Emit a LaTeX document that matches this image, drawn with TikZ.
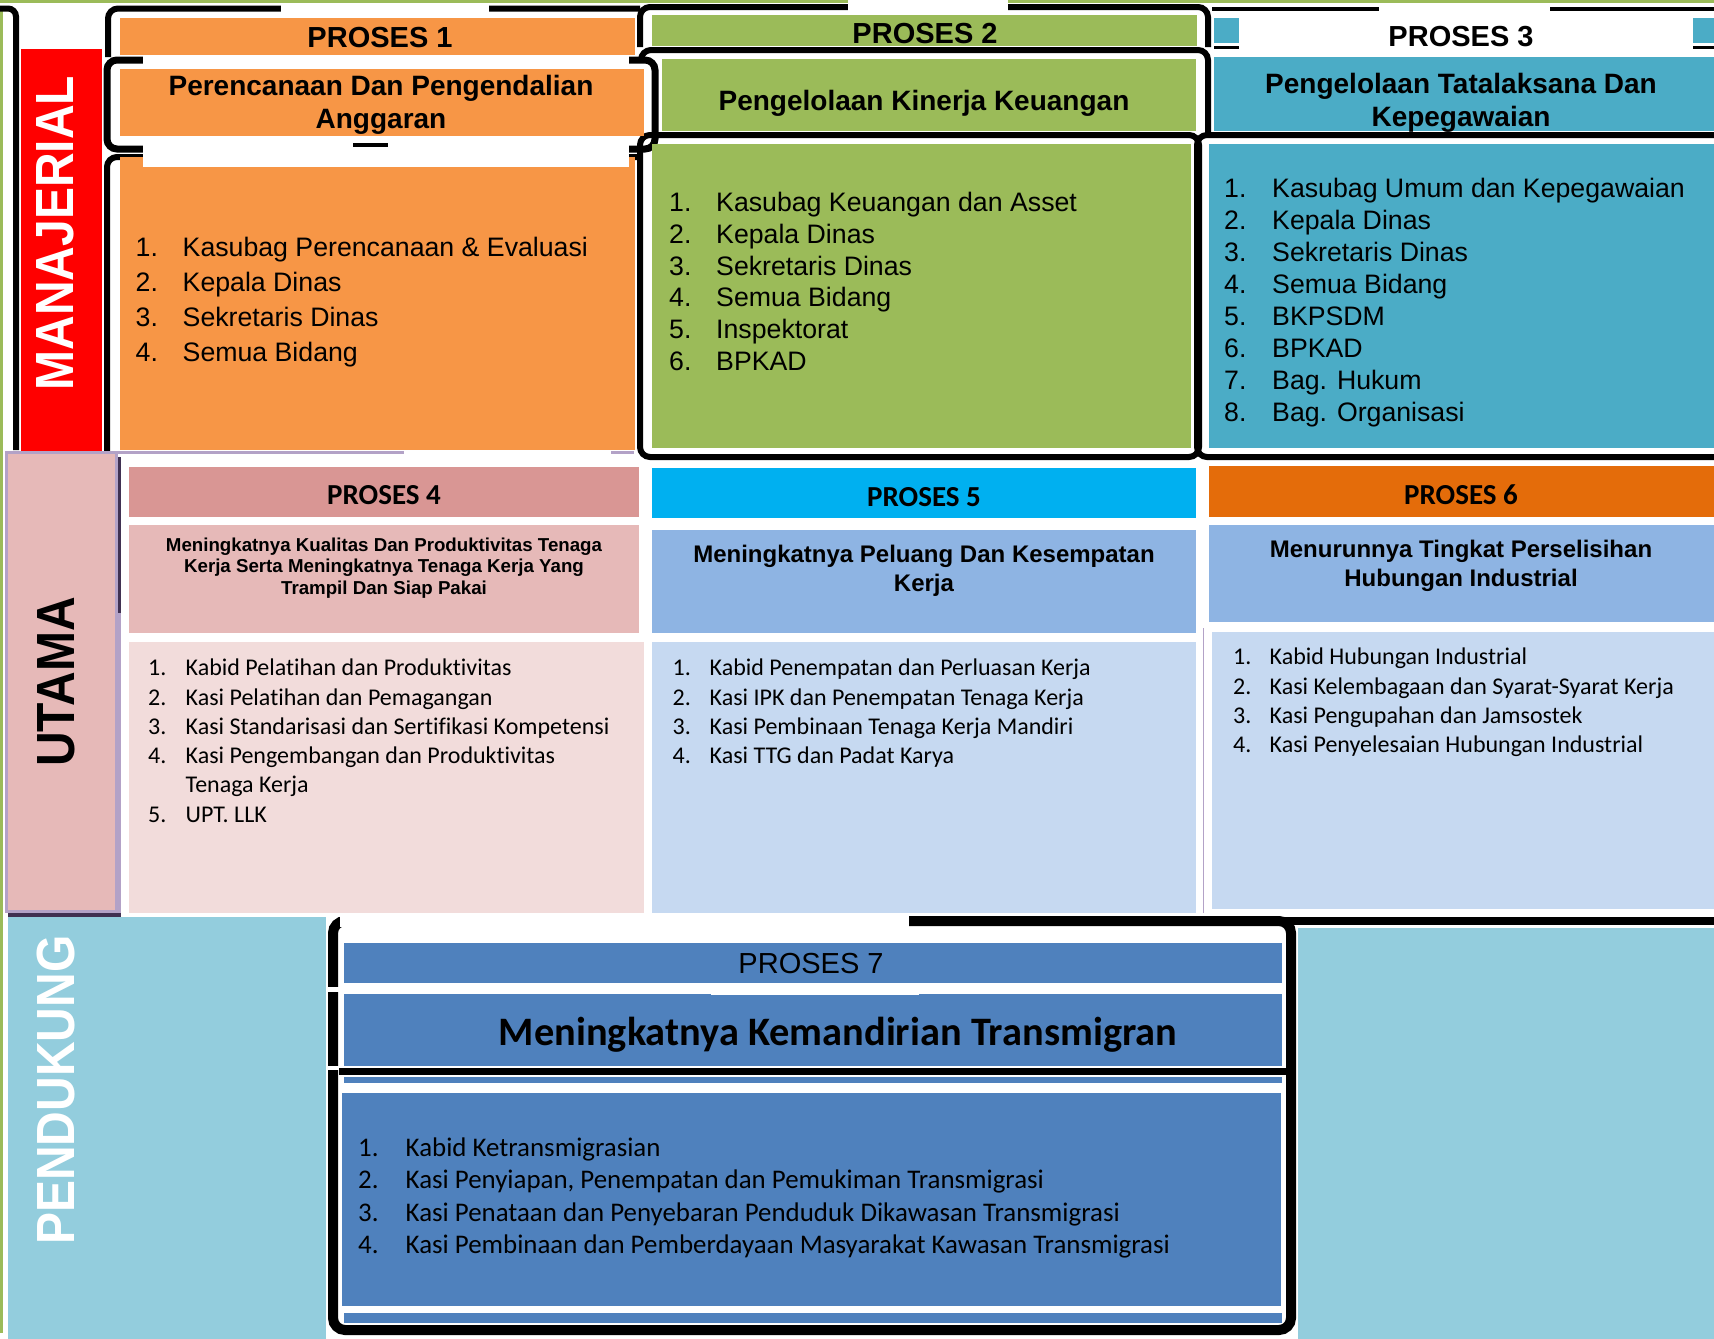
\documentclass[tikz,border=0pt]{standalone}
\usepackage{fontspec}
\setmainfont{Liberation Sans}
\newfontfamily\calib[Ligatures=NoCommon]{Carlito}
\definecolor{pOrange}{HTML}{F79646}
\definecolor{pGreen}{HTML}{9BBB59}
\definecolor{pTeal}{HTML}{4BACC6}
\definecolor{pRed}{HTML}{FF0000}
\definecolor{pPink}{HTML}{E6B9B8}
\definecolor{pRose}{HTML}{D99694}
\definecolor{pPinkL}{HTML}{F2DCDB}
\definecolor{pCyan}{HTML}{00B0F0}
\definecolor{pBlueM}{HTML}{8EB4E3}
\definecolor{pBlueL}{HTML}{C6D9F1}
\definecolor{pDOrange}{HTML}{E46C0A}
\definecolor{pBlue}{HTML}{4F81BD}
\definecolor{pSky}{HTML}{93CDDD}
\definecolor{pLav}{HTML}{B3A2C7}
\definecolor{pPurp}{HTML}{403152}
\tikzset{
  frameline/.style={draw=black, line width=6pt, rounded corners=10pt},
  item/.style={anchor=base west, inner sep=0pt, text=black},
  hdr/.style={inner sep=0pt, text=black, align=center},
  sidelabel/.style={inner sep=0pt, rotate=90, font=\fontsize{48}{57}\selectfont\bfseries},
  fArial/.style={font=\fontsize{26.7}{32}\selectfont},
  fHead/.style={font=\fontsize{29}{34}\selectfont\bfseries},
  fSub/.style={font=\fontsize{28}{33}\selectfont\bfseries},
  fCal/.style={font=\calib\fontsize{24}{29}\selectfont},
  fCalHead/.style={font=\calib\fontsize{29}{34}\selectfont\bfseries},
}
\begin{document}
\begin{tikzpicture}[x=1pt,y=-1pt]
\useasboundingbox (0,0) rectangle (1714,1339);
\fill[white] (0,0) rectangle (1714,1339);
% thin green edges
\fill[pGreen] (0,0) rectangle (1714,3);
\fill[pGreen] (0,10) rectangle (3,1333);
% left black frame edge
\draw[line width=6pt, rounded corners=8pt] (0,8.5) -- (16,8.5) -- (16,450);

% ---------- frames, row 1 ----------
% proses 1
\draw[frameline] (108,57) -- (108,8.5) -- (640,8.5);
\fill[white] (281,4) rectangle (489,13);
\draw[frameline, line width=7pt] (107,60) rectangle (655,149);
\draw[frameline] (107,452) -- (107,157) -- (640,157);
% proses 2
\draw[frameline] (640,47) -- (640,7) -- (1208,7) -- (1208,47);
\fill[white] (848,0) rectangle (1008,12);
\draw[frameline] (641,62) -- (641,50) -- (1208,50) -- (1208,135);
\draw[frameline] (640,135) rectangle (1199,457);
% proses 3
\draw[line width=4pt] (1212,8.5) -- (1379,8.5);
\draw[line width=4pt] (1550,8.5) -- (1714,8.5);
\draw[frameline] (1714,135) -- (1197,135) -- (1197,457) -- (1714,457);

% ---------- fills, row 1 ----------
\fill[pOrange] (120,18) rectangle (635,55);
\fill[pOrange] (120,69) rectangle (644,136);
\fill[pOrange] (120,157) rectangle (635,450);
\fill[white] (143,55) rectangle (629,69);
\fill[white] (143,136) rectangle (629,167);
\fill[black] (353,143) rectangle (388,147);

\fill[pGreen] (652,15) rectangle (1197,46);
\fill[pGreen] (662,59) rectangle (1196,131);
\fill[pGreen] (652,144) rectangle (1191,448);

\fill[pTeal] (1214,18) rectangle (1239,43);
\fill[pTeal] (1693,18) rectangle (1714,43);
\fill[black] (1214,45.5) rectangle (1239,48.5);
\fill[black] (1693,45.5) rectangle (1714,48.5);
\fill[pTeal] (1214,57) rectangle (1714,131);
\fill[pTeal] (1209,144) rectangle (1714,448);

% red bar
\fill[pRed] (21,49) rectangle (102,452);
% lavender seam
\fill[pLav] (118,451) rectangle (404,454);
\fill[pLav] (611,451) rectangle (634,454);

% ---------- UTAMA ----------
\fill[pLav] (10,457) rectangle (121,917);
\fill[pPurp] (117,457) rectangle (121,613);
\fill[pPurp] (8,913) rectangle (121,917);
\filldraw[fill=pPink, draw=pLav, line width=3pt] (6,452) rectangle (116,911);

% ---------- PENDUKUNG background ----------
\fill[pSky] (8,917) rectangle (326,1339);
\fill[pSky] (1298,928) rectangle (1714,1339);

% ---------- row 2 ----------
\fill[pRose] (129,467) rectangle (639,517);
\fill[pPink] (129,525) rectangle (639,633);
\fill[pPinkL] (129,642) rectangle (644,913);

\fill[pCyan] (652,468) rectangle (1196,518);
\fill[pBlueM] (652,530) rectangle (1196,633);
\fill[pBlueL] (652,642) rectangle (1196,913);

\fill[pDOrange] (1209,466) rectangle (1714,517);
\fill[pBlueM] (1209,525) rectangle (1714,622);
\fill[pBlueL] (1212,632) rectangle (1714,909);
\draw[pLav, line width=1pt] (1203.5,628) -- (1203.5,913);
\fill[black] (1203,917) rectangle (1714,925);
\fill[black] (910,921) rectangle (1203,925);

% ---------- proses 7 ----------
\draw[line width=10pt, rounded corners=12pt] (333,921) rectangle (1291,1330);
\fill[white] (340,914) rectangle (909,927);
\fill[white] (326,987) rectangle (341,992);
\fill[white] (326,1066) rectangle (341,1070);
\fill[pBlue] (344,943) rectangle (1282,983);
\fill[pBlue] (344,994) rectangle (1282,1066);
\fill[white] (711,983) rectangle (919,995);
\fill[black] (339,1068) rectangle (1287,1075);
\fill[pBlue] (344,1077) rectangle (1282,1083);
\fill[pBlue] (342,1093) rectangle (1281,1306);
\fill[pBlue] (344,1313) rectangle (1282,1323);

% ---------- side labels ----------
\node[sidelabel, text=white] (lblMan) at (55,233) {\scalebox{1}[1.12]{MANAJERIAL}};
\node[sidelabel, text=black] (lblUta) at (56,682) {\scalebox{1}[1.12]{UTAMA}};
\node[sidelabel, text=white] (lblPen) at (56,1090) {\scalebox{1}[1.12]{PENDUKUNG}};

% ---------- headers row 1 ----------
\node[hdr, fHead] (h1) at (380,38) {PROSES 1};
\node[hdr, fHead] (h2) at (925,34) {PROSES 2};
\node[hdr, fHead] (h3) at (1461,37) {PROSES 3};
\node[hdr, fSub] (s1) at (381,105) {Perencanaan Dan Pengendalian\\Anggaran};
\node[hdr, fSub] (s2) at (924,103.5) {Pengelolaan Kinerja Keuangan};
\node[hdr, fSub] (s3) at (1461,102.5) {Pengelolaan Tatalaksana Dan\\Kepegawaian};

% ---------- lists row 1 ----------
\foreach \t [count=\i] in {Kasubag Perencanaan \& Evaluasi, Kepala Dinas, Sekretaris Dinas, Semua Bidang}{
  \node[item, fArial] (p1n\i) at (135.5,{256.8+34.8*(\i-1)}) {\i.};
  \node[item, fArial] (p1t\i) at (182.5,{256.8+34.8*(\i-1)}) {\t};
}
\foreach \t [count=\i] in {Kasubag Keuangan dan Asset, Kepala Dinas, Sekretaris Dinas, Semua Bidang, Inspektorat, BPKAD}{
  \node[item, fArial] (p2n\i) at (669,{211.8+31.7*(\i-1)}) {\i.};
  \node[item, fArial] (p2t\i) at (716,{211.8+31.7*(\i-1)}) {\t};
}
\foreach \t [count=\i] in {Kasubag Umum dan Kepegawaian, Kepala Dinas, Sekretaris Dinas, Semua Bidang, BKPSDM, BPKAD, Bag. Hukum, Bag. Organisasi}{
  \node[item, fArial] (p3n\i) at (1224,{197.8+32*(\i-1)}) {\i.};
  \node[item, fArial] (p3t\i) at (1272,{197.8+32*(\i-1)}) {\t};
}

% ---------- headers row 2 ----------
\node[hdr, fCalHead] (h4) at (384,495.5) {PROSES 4};
\node[hdr, fCalHead] (h5) at (924,497.5) {PROSES 5};
\node[hdr, fCalHead] (h6) at (1461,494.5) {PROSES 6};
\node[hdr, font=\fontsize{18.7}{21.7}\selectfont\bfseries] (s4) at (384,568) {Meningkatnya Kualitas Dan Produktivitas Tenaga\\Kerja Serta Meningkatnya Tenaga Kerja Yang\\Trampil Dan Siap Pakai};
\node[hdr, font=\fontsize{24}{29}\selectfont\bfseries] (s5) at (924,571) {Meningkatnya Peluang Dan Kesempatan\\Kerja};
\node[hdr, font=\fontsize{24}{29}\selectfont\bfseries] (s6) at (1461,566) {Menurunnya Tingkat Perselisihan\\Hubungan Industrial};

% ---------- lists row 2 ----------
\foreach \t [count=\i] in {Kabid Pelatihan dan Produktivitas, Kasi Pelatihan dan Pemagangan, Kasi Standarisasi dan Sertifikasi Kompetensi, Kasi Pengembangan dan Produktivitas}{
  \node[item, fCal] (p4n\i) at (148,{675.7+29.3*(\i-1)}) {\i.};
  \node[item, fCal] (p4t\i) at (185.5,{675.7+29.3*(\i-1)}) {\t};
}
\node[item, fCal] (p4t4b) at (185.5,{675.7+29.3*4}) {Tenaga Kerja};
\node[item, fCal] (p4n5) at (148,{675.7+29.3*5}) {5.};
\node[item, fCal] (p4t5) at (185.5,{675.7+29.3*5}) {UPT. LLK};
\foreach \t [count=\i] in {Kabid Penempatan dan Perluasan Kerja, Kasi IPK dan Penempatan Tenaga Kerja, Kasi Pembinaan Tenaga Kerja Mandiri, Kasi TTG dan Padat Karya}{
  \node[item, fCal] (p5n\i) at (672.5,{675.7+29.3*(\i-1)}) {\i.};
  \node[item, fCal] (p5t\i) at (709.5,{675.7+29.3*(\i-1)}) {\t};
}
\foreach \t [count=\i] in {Kabid Hubungan Industrial, Kasi Kelembagaan dan Syarat-Syarat Kerja, Kasi Pengupahan dan Jamsostek, Kasi Penyelesaian Hubungan Industrial}{
  \node[item, fCal] (p6n\i) at (1233,{664.7+29.3*(\i-1)}) {\i.};
  \node[item, fCal] (p6t\i) at (1269.5,{664.7+29.3*(\i-1)}) {\t};
}

% ---------- proses 7 text ----------
\node[hdr, font=\fontsize{29}{34}\selectfont] (h7) at (811,964) {PROSES 7};
\node[hdr, font=\calib\fontsize{40.4}{48}\selectfont\bfseries] (s7) at (838,1035) {Meningkatnya Kemandirian Transmigran};
\foreach \t [count=\i] in {Kabid Ketransmigrasian, {Kasi Penyiapan, Penempatan dan Pemukiman Transmigrasi}, Kasi Penataan dan Penyebaran Penduduk Dikawasan Transmigrasi, Kasi Pembinaan dan Pemberdayaan Masyarakat Kawasan Transmigrasi}{
  \node[item, font=\calib\fontsize{26.9}{32}\selectfont] (p7n\i) at (358,{1156.5+32.4*(\i-1)}) {\i.};
  \node[item, font=\calib\fontsize{26.9}{32}\selectfont] (p7t\i) at (405.5,{1156.5+32.4*(\i-1)}) {\t};
}
\end{tikzpicture}
\end{document}
